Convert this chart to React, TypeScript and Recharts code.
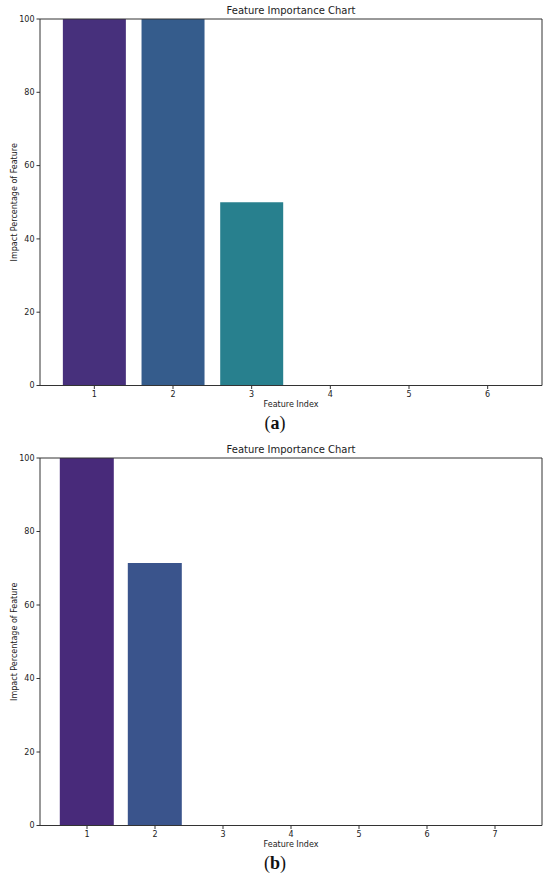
import { BarChart, Bar, XAxis, YAxis, Cell, Label } from 'recharts';

const featuresA = ['1', '2', '3', '4', '5', '6'];
const impactA = [100, 100, 50, 0, 0, 0];
const featuresB = ['1', '2', '3', '4', '5', '6', '7'];
const impactB = [100, 71.4, 0, 0, 0, 0, 0];
const yTicks = [0, 20, 40, 60, 80, 100];

const coloursA = ['#47307c', '#355c8c', '#28808e', '#21a386', '#52c468', '#b5de2b'];
const coloursB = ['#482a7a', '#3a548c', '#2b758e', '#21918c', '#2eb27c', '#6bcd59', '#c2df23'];

const AXIS = '#333333';
const FONT = 'DejaVu Sans, sans-serif';
const tickStyle = { fill: '#222', fontSize: 8, fontFamily: FONT };

type PanelProps = {
  features: string[];
  impact: number[];
  colours: string[];
  pad: number;
  top: number;
  marginTop: number;
};

function Panel({ features, impact, colours, pad, top, marginTop }: PanelProps) {
  const data = features.map((f, i) => ({ feature: f, impact: impact[i] }));
  return (
    <div style={{ position: 'absolute', left: 0, top, width: 550, height: 410 }}>
      <div
        style={{
          position: 'absolute',
          left: 40,
          width: 502,
          top: marginTop - 14,
          textAlign: 'center',
          fontFamily: FONT,
          fontSize: 10,
          color: '#222',
        }}
      >
        Feature Importance Chart
      </div>
      <BarChart
        width={550}
        height={410}
        data={data}
        margin={{ top: marginTop - 1, right: 7, bottom: 4.5, left: 10 }}
        barCategoryGap="10%"
      >
        <XAxis
          dataKey="feature"
          padding={{ left: pad, right: pad }}
          height={20}
          tick={tickStyle}
          tickSize={3.5}
          tickLine={{ stroke: AXIS }}
          axisLine={{ stroke: AXIS }}
          interval={0}
        >
          <Label value="Feature Index" position="insideBottom" offset={-1} style={{ ...tickStyle, fontSize: 8 }} />
        </XAxis>
        <XAxis
          xAxisId="top"
          dataKey="feature"
          orientation="top"
          height={1}
          tick={false}
          tickLine={false}
          axisLine={{ stroke: AXIS }}
        />
        <YAxis
          domain={[0, 100]}
          ticks={yTicks}
          width={30}
          tick={tickStyle}
          tickSize={3.5}
          tickLine={{ stroke: AXIS }}
          axisLine={{ stroke: AXIS }}
        >
          <Label
            value="Impact Percentage of Feature"
            angle={-90}
            position="insideLeft"
            offset={4}
            style={{ ...tickStyle, fontSize: 8, textAnchor: 'middle' }}
          />
        </YAxis>
        <YAxis
          yAxisId="right"
          orientation="right"
          domain={[0, 100]}
          width={1}
          tick={false}
          tickLine={false}
          axisLine={{ stroke: AXIS }}
        />
        <Bar dataKey="impact" isAnimationActive={false}>
          {data.map((d, i) => (
            <Cell key={d.feature} fill={colours[i]} />
          ))}
        </Bar>
      </BarChart>
    </div>
  );
}

function Caption({ letter, top }: { letter: string; top: number }) {
  return (
    <div
      style={{
        position: 'absolute',
        left: 0,
        width: 550,
        top,
        textAlign: 'center',
        fontFamily: 'Liberation Serif, serif',
        fontSize: 18,
        color: '#111',
      }}
    >
      (<b>{letter}</b>)
    </div>
  );
}

export default function App() {
  return (
    <div style={{ position: 'absolute', left: 0, top: 0, width: 550, height: 881, background: '#fff' }}>
      <Panel features={featuresA} impact={impactA} colours={coloursA} pad={15} top={0} marginTop={19} />
      <Caption letter="a" top={413} />
      <Panel features={featuresB} impact={impactB} colours={coloursB} pad={13} top={440} marginTop={18} />
      <Caption letter="b" top={853} />
    </div>
  );
}
